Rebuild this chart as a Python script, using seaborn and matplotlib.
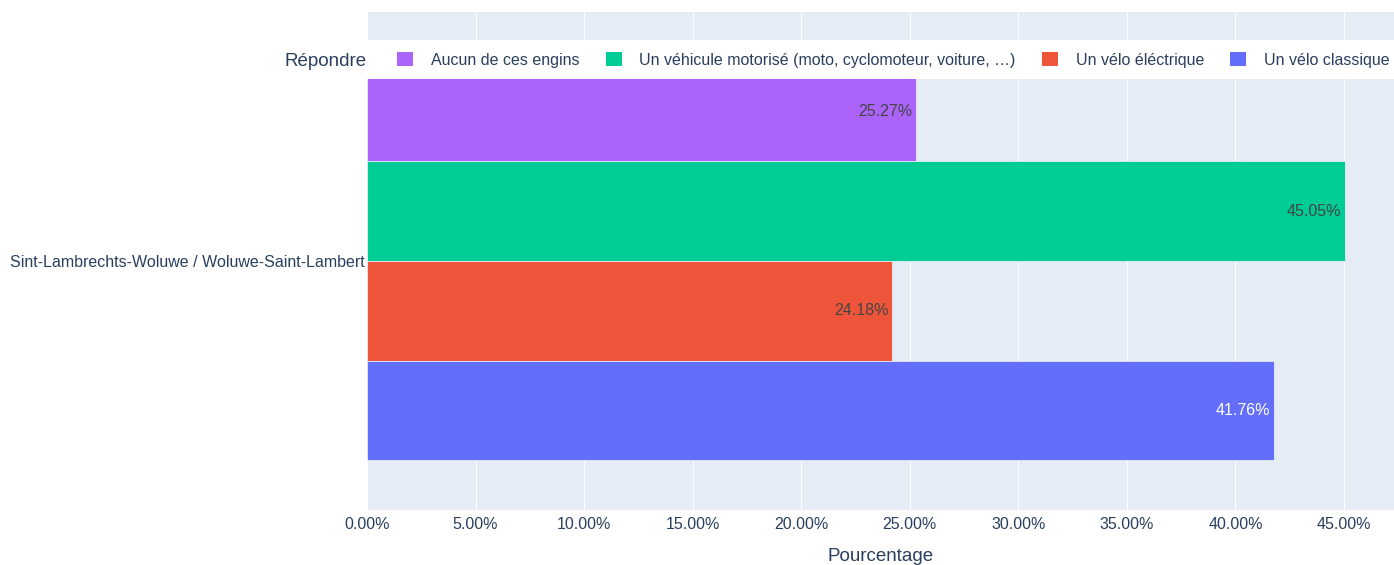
import matplotlib
matplotlib.use("Agg")
import matplotlib.pyplot as plt
from matplotlib.patches import Rectangle
from matplotlib.ticker import PercentFormatter, MultipleLocator
import seaborn as sns
import pandas as pd

# ---- data ----
commune = ["Sint-Lambrechts-Woluwe / Woluwe-Saint-Lambert"]
reponses = ["Aucun de ces engins",
            "Un véhicule motorisé (moto, cyclomoteur, voiture, …)",
            "Un vélo éléctrique",
            "Un vélo classique"]
pourcentages = [0.2527, 0.4505, 0.2418, 0.4176]
couleurs = ["#AB63FA", "#00CC96", "#EF553B", "#636EFA"]
couleurs_texte = ["#444444", "#444444", "#444444", "#FFFFFF"]

df = pd.DataFrame({"Commune": commune * len(reponses),
                   "Répondre": reponses,
                   "Pourcentage": pourcentages})

sns.set_theme(style="darkgrid", rc={"axes.facecolor": "#E5ECF6",
                                    "grid.color": "white",
                                    "grid.linewidth": 0.7})
plt.rcParams["font.family"] = ["Liberation Sans", "DejaVu Sans"]
TXT = "#2a3f5f"
FS = 11.5
FS_T = 13.5

fig = plt.figure(figsize=(13.94, 5.65), dpi=100)
ax = fig.add_axes([367 / 1394, 55 / 565, 1 - 367 / 1394, (510 - 12) / 565])

palette = dict(zip(reponses, couleurs))
sns.barplot(data=df, y="Commune", x="Pourcentage", hue="Répondre",
            hue_order=reponses, palette=palette, orient="h", ax=ax,
            width=0.8, linewidth=0.6, edgecolor="#E5ECF6", saturation=1,
            legend=False, errorbar=None)

ax.set_xlim(0, max(pourcentages) * 1.05)
ax.set_ylim(0.5, -0.5)
ax.xaxis.set_major_locator(MultipleLocator(0.05))
ax.xaxis.set_major_formatter(PercentFormatter(xmax=1, decimals=2))
ax.grid(axis="y", visible=False)
ax.grid(axis="x", visible=True)
for s in ax.spines.values():
    s.set_visible(False)
ax.tick_params(axis="x", length=0, pad=5, labelsize=FS, labelcolor=TXT)
ax.tick_params(axis="y", length=0, pad=1.5, labelsize=FS, labelcolor=TXT)
ax.set_ylabel("")
ax.set_xlabel("Pourcentage", fontsize=FS_T, color=TXT, labelpad=11.5)

# bar labels (inside end)
bars = [p for p in ax.patches if p.get_width() > 0]
bars.sort(key=lambda p: p.get_y())
for p, val, tc in zip(bars, pourcentages, couleurs_texte):
    ax.annotate(f"{val * 100:.2f}%", (p.get_width(), p.get_y() + p.get_height() / 2),
                xytext=(-2.5, 0), textcoords="offset points", ha="right", va="center",
                fontsize=FS, color=tc, clip_on=True)

# legend band
band = Rectangle((367 / 1394, 1 - 79 / 565), 1 - 367 / 1394, 39 / 565,
                 transform=fig.transFigure, facecolor="white", edgecolor="none", zorder=4)
fig.add_artist(band)
fig.text(285 / 1394, 1 - 61 / 565, "Répondre", fontsize=FS_T, color=TXT,
         ha="left", va="center", zorder=6)
handles = [Rectangle((0, 0), 1, 1, facecolor=c, edgecolor="none") for c in couleurs]
fig.legend(handles, reponses, loc="center left", bbox_to_anchor=(397 / 1394, 1 - 60 / 565),
           ncol=4, frameon=False, fontsize=FS, labelcolor=TXT, handlelength=1.0,
           handleheight=1.0, handletextpad=1.12, columnspacing=1.64, borderpad=0,
           borderaxespad=0)

fig.savefig("out.png", dpi=100)
